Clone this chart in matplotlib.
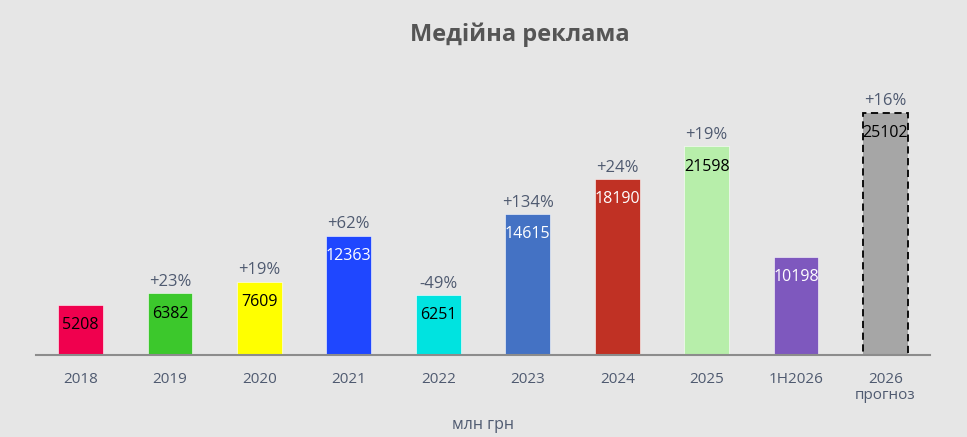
import matplotlib.pyplot as plt
import numpy as np

categories = ['2018', '2019', '2020', '2021', '2022', '2023', '2024', '2025', '1H2026', '2026\nпрогноз']
values = [5208, 6382, 7609, 12363, 6251, 14615, 18190, 21598, 10198, 25102]
growth = ['', '+23%', '+19%', '+62%', '-49%', '+134%', '+24%', '+19%', '', '+16%']
bar_colors = ['#F0004E', '#3CC82C', '#FFFF00', '#1F47FF', '#00E3E0',
              '#4472C4', '#C03124', '#B7EEAA', '#7E58BE', '#A6A6A6']
value_colors = ['black', 'black', 'black', 'white', 'black',
                'white', 'white', 'black', 'white', 'black']

bg = '#E6E6E6'
text_col = '#4F5A70'
plt.rcParams['font.family'] = ['Open Sans', 'DejaVu Sans']

fig = plt.figure(figsize=(9.67, 4.37), dpi=100, facecolor=bg)
ax = fig.add_axes([0.037, 0.1876, 0.925, 0.63])
ax.set_facecolor(bg)

x = np.arange(len(categories))
bars = ax.bar(x, values, width=0.5, color=bar_colors, edgecolor='white', linewidth=0.4)
# forecast bar: dashed outline
last = bars[-1]
last.set_edgecolor('black')
last.set_linestyle((0, (4, 2.5)))
last.set_linewidth(1.3)

for xi, v, g, vc in zip(x, values, growth, value_colors):
    ax.annotate(str(v), (xi, v), xytext=(0, -14.5), textcoords='offset points',
                ha='center', va='center', fontsize=11.5, color=vc)
    if g:
        ax.annotate(g, (xi, v), xytext=(0, 8), textcoords='offset points',
                    ha='center', va='center', fontsize=12, color=text_col)

ax.set_xlim(-0.5, 9.5)
ax.set_ylim(0, 28500)
ax.set_xticks(x)
ax.set_xticklabels(categories, fontsize=11, color=text_col, linespacing=1.15)
ax.tick_params(axis='x', length=0, pad=12)
ax.set_yticks([])
for s in ['top', 'right', 'left']:
    ax.spines[s].set_visible(False)
ax.spines['bottom'].set_color('#8C8C8C')
ax.spines['bottom'].set_linewidth(1.5)

ax.set_xlabel('млн грн', fontsize=11.5, color=text_col, labelpad=10)
fig.text(0.538, 0.92, 'Медійна реклама', ha='center', va='center',
         fontsize=17, fontweight='bold', color='#555555')

fig.savefig('out.png', dpi=100, facecolor=bg)
